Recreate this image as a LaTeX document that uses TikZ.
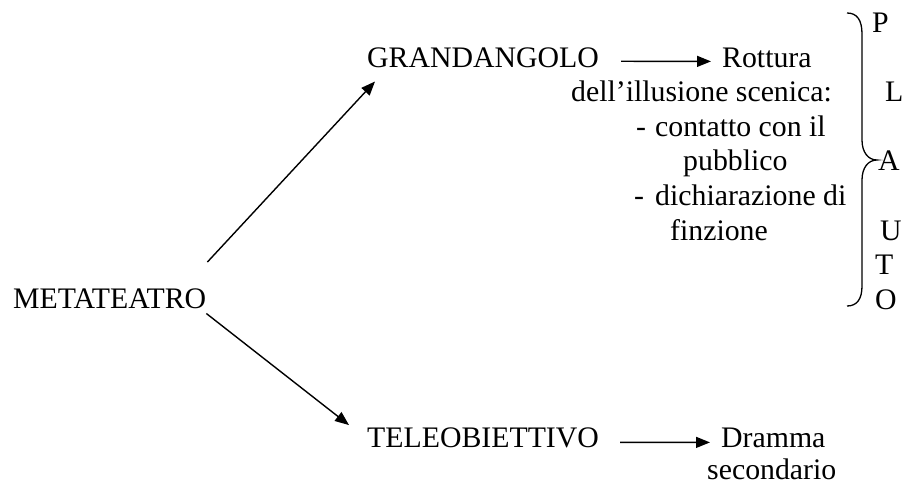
\documentclass[tikz,border=0pt]{standalone}
\usepackage{fontspec}
\setmainfont{Liberation Serif}
\usetikzlibrary{arrows.meta}
\begin{document}
\begin{tikzpicture}[x=1pt,y=-1pt,
  txt/.style={inner sep=0pt, anchor=base west, font=\fontsize{29.8pt}{34.5pt}\selectfont},
  arr/.style={-{Triangle[length=14pt,width=11pt]}, line width=1.4pt},
  bracestyle/.style={line width=1.3pt}]
\useasboundingbox (0,0) rectangle (915,483);
% main labels
\node[txt] (me) at (13,308) {METATEATRO};
\node[txt] (gr) at (367,67) {GRANDANGOLO};
\node[txt] (te) at (367,447) {TELEOBIETTIVO};
% right column
\node[txt] (ro) at (722,67) {Rottura};
\node[txt] (il) at (571,101) {dell’illusione scenica:};
\node[txt] (d1) at (636,136) {-};
\node[txt] (co) at (655,136) {contatto con il};
\node[txt] (pu) at (683,170) {pubblico};
\node[txt] (d2) at (634,205) {-};
\node[txt] (di) at (655,205) {dichiarazione di};
\node[txt] (fi) at (670,240) {finzione};
\node[txt] (dr) at (721,447) {Dramma};
\node[txt] (se) at (707,479) {secondario};
% PLAUTO
\node[txt] (lp) at (872,32.5) {P};
\node[txt] (ll) at (885,101) {L};
\node[txt] (la) at (878,170) {A};
\node[txt] (lu) at (880,240) {U};
\node[txt] (lt) at (875,274) {T};
\node[txt] (lo) at (875,309) {O};
% brace
\draw[bracestyle] (847,13) .. controls (857,13) and (862,20) .. (862,34)
  -- (862,140) .. controls (862,152) and (868,160) .. (877,160)
  .. controls (868,160) and (862,168) .. (862,180)
  -- (862,286) .. controls (862,299) and (857,306) .. (847,306);
% arrows
\draw[arr] ([shift={(1pt,26pt)}]me.north east) -- ([shift={(8pt,-14pt)}]gr.south west);
\draw[arr] ([yshift=-5pt]me.south east) -- ([shift={(-18pt,2pt)}]te.north west);
\draw[arr] ([xshift=22pt,yshift=-4pt]gr.east) -- ([xshift=-11pt,yshift=-4pt]ro.west);
\draw[arr] ([xshift=21pt,yshift=-5pt]te.east) -- ([xshift=-11pt,yshift=-5pt]dr.west);
\end{tikzpicture}
\end{document}
